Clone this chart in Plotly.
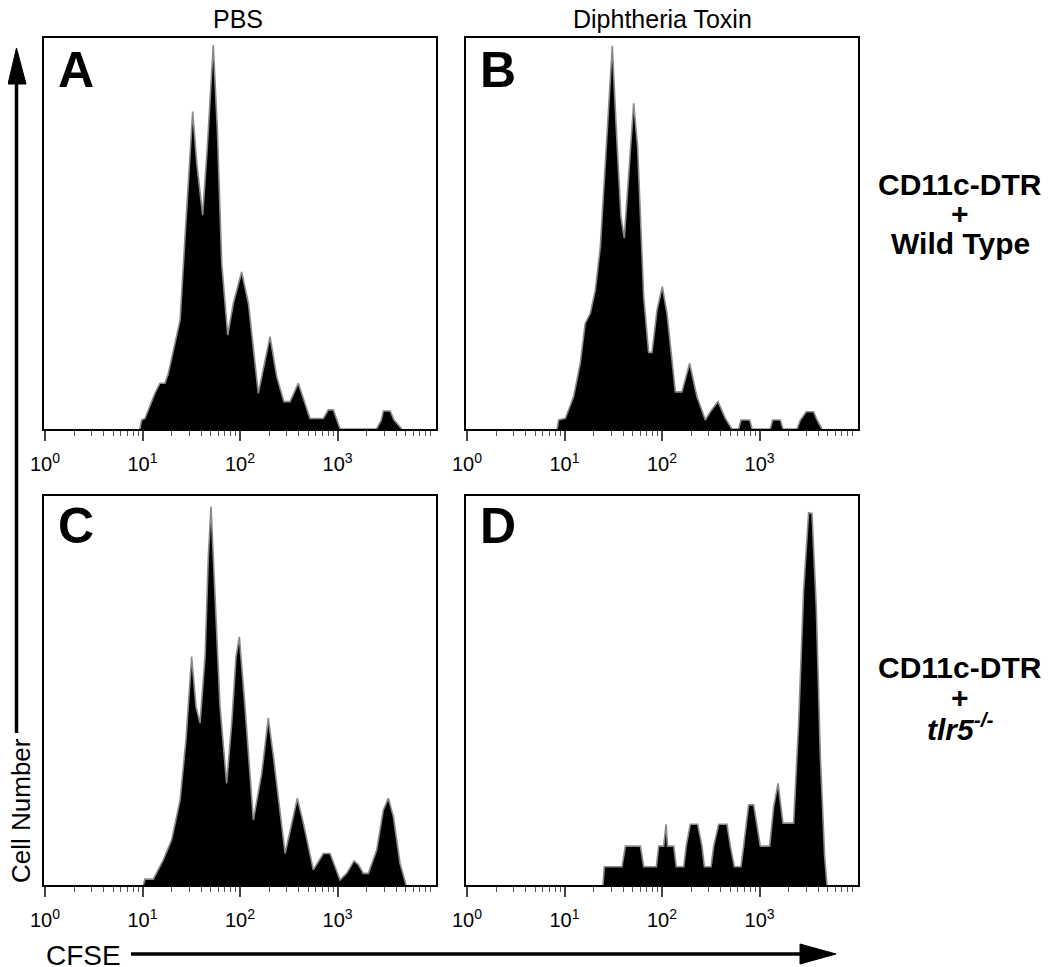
import plotly.graph_objects as go

W, H = 1050, 967
OFF = 8  # page body margin offset in pixels

# ---------------- data (CFSE intensity, cell count as % of panel height) ----------------
a_cfse = [9.4, 9.8, 10.6, 13.4, 15.1, 17.0, 18.4, 24.3, 27.3, 30.7, 32.7, 36.0, 41.4, 46.2,
          53.2, 58.6, 64.9, 74.8, 85.3, 104, 122, 154, 203, 238, 282, 326, 396, 522, 716,
          805, 906, 1062, 2512, 2818, 2951, 3467, 3800, 4571]
a_count = [0, 2.3, 2.7, 9.1, 11.7, 11.7, 14.2, 27.9, 49.2, 69.6, 81.2, 68.0, 54.7, 72.2,
           98.2, 76.5, 42.4, 24.0, 32.1, 40.2, 32.1, 9.1, 23.6, 13.4, 7.0, 7.0, 11.7, 2.7, 2.7,
           4.9, 4.9, 0, 0, 2.3, 4.6, 4.6, 2.3, 0]

b_cfse = [8.4, 8.7, 10.2, 12.4, 14.5, 16.3, 18.4, 20.7, 23.3, 26.2, 29.0, 30.9, 34.0, 37.9,
          41.0, 45.5, 51.2, 56.2, 64.9, 72.9, 78.9, 88.9, 100.7, 112.5, 137, 160, 192, 228,
          278, 313, 375, 446, 522, 611, 645, 794, 838, 1291, 1363, 1634, 1741, 2425, 2624,
          3020, 3589, 3890, 4375]
b_count = [0, 2.3, 2.7, 8.3, 16.8, 27.0, 29.6, 35.5, 46.6, 68.0, 89.3, 98.0, 76.5, 54.3,
           48.8, 66.2, 83.3, 72.2, 33.8, 19.6, 19.6, 30.4, 36.4, 29.6, 9.5, 9.5, 16.8, 8.3,
           2.3, 4.4, 7.0, 2.7, 0, 0, 2.3, 2.3, 0, 0, 2.3, 2.3, 0, 0, 2.3,
           4.4, 4.4, 2.3, 0]

c_cfse = [10.2, 10.6, 12.9, 16.3, 19.9, 24.3, 27.9, 31.9, 35.4, 38.9, 43.8, 47.3, 50.4, 55.5,
          62.4, 72.9, 82.2, 91.0, 98.4, 112.5, 137, 167, 195, 220, 290, 387, 446, 565, 716,
          838, 1062, 1242, 1476, 1637, 1841, 2070, 2523, 2951, 3321, 3741, 4375, 5047]
c_count = [0, 1.5, 1.5, 6.4, 11.6, 21.9, 37.3, 58.7, 45.8, 41.6, 58.7, 84.4, 97.3, 75.8,
           45.8, 26.1, 41.6, 58.7, 63.8, 45.8, 16.7, 28.7, 42.9, 33.0, 8.1, 22.3, 15.9, 3.9, 8.1,
           8.1, 1.3, 3.0, 6.2, 5.2, 3.0, 3.0, 9.0, 19.3, 22.3, 17.6, 5.6, 0]

d_cfse = [24.8, 25.6, 38.9, 42.1, 60, 64.9, 87.5, 92.5, 104, 110, 114, 132, 140, 167, 177,
          195, 232, 257, 272, 318, 339, 381, 464, 502, 552, 645, 687, 773, 871, 1019, 1270,
          1396, 1549, 1741, 2239, 2518, 2833, 3189, 3452, 3820, 4207, 4656, 4920]
d_count = [0, 4.7, 4.7, 10.0, 10.0, 4.7, 4.7, 10.0, 10.0, 15.6, 10.0, 10.0, 4.7, 4.7, 10.0,
           15.6, 15.6, 10.0, 4.7, 4.7, 10.0, 15.6, 15.6, 10.0, 4.7, 4.7, 10.0, 20.6, 20.6, 10.0,
           10.0, 20.1, 26.1, 15.9, 15.9, 41.6, 75.8, 95.7, 95.5, 71.5, 33.0, 7.3, 0]

panel_letters = ["A", "B", "C", "D"]
column_titles = ["PBS", "Diphtheria Toxin"]
tick_values = [1, 10, 100, 1000]
tick_labels = ["10<sup>0</sup>", "10<sup>1</sup>", "10<sup>2</sup>", "10<sup>3</sup>"]
minor_values = [k * 10 ** d for d in range(4) for k in range(2, 10)]

FONT = "Liberation Sans, Arial, sans-serif"


def px_x(p):
    return (p - OFF) / W


def px_y(p):
    return 1 - (p - OFF) / H


# panel boxes in pixels: (left, top, right, bottom)
boxes = [(44, 38, 436, 429), (466, 38, 858, 429), (44, 496, 436, 885), (466, 496, 858, 885)]
series = [(a_cfse, a_count), (b_cfse, b_count), (c_cfse, c_count), (d_cfse, d_count)]

fig = go.Figure()
layout = dict(width=W, height=H, margin=dict(l=0, r=0, t=0, b=0, autoexpand=False),
              paper_bgcolor="white", plot_bgcolor="white", showlegend=False,
              font=dict(family=FONT, color="black"))

for i, ((l, t, r, b), (xs, ys)) in enumerate(zip(boxes, series)):
    n = i + 1
    xa = "x" if n == 1 else f"x{n}"
    ya = "y" if n == 1 else f"y{n}"
    fig.add_trace(go.Scatter(x=xs, y=ys, xaxis=xa, yaxis=ya, mode="lines",
                             fill="tozeroy", fillcolor="black",
                             line=dict(color="#8a8a8a", width=1.6, shape="linear"),
                             hoverinfo="skip"))
    layout[f"xaxis{'' if n == 1 else n}"] = dict(
        type="log", range=[-0.0103, 4.01], domain=[px_x(l), px_x(r)], anchor=ya,
        automargin=False,
        showgrid=False, zeroline=False, showline=True, mirror=True,
        linecolor="black", linewidth=2,
        tickmode="array", tickvals=tick_values, ticktext=tick_labels,
        ticks="outside", ticklen=10, tickwidth=1.5, tickcolor="#444",
        ticklabelstandoff=6,
        tickfont=dict(size=20, family=FONT, color="black"),
        minor=dict(tickmode="array", tickvals=minor_values, ticks="outside",
                   ticklen=5, tickwidth=1.2, tickcolor="#555"),
    )
    layout[f"yaxis{'' if n == 1 else n}"] = dict(
        range=[0, 100], domain=[px_y(b), px_y(t)], anchor=xa, automargin=False,
        showgrid=False, zeroline=False, showline=True, mirror=True,
        linecolor="black", linewidth=2, showticklabels=False, ticks="",
    )

fig.update_layout(**layout)

ann = []
# panel letters
letter_pos = [(56, 40), (478, 40), (56, 496), (478, 496)]
for letter, (lx, ly) in zip(panel_letters, letter_pos):
    ann.append(dict(text=f"<b>{letter}</b>", x=px_x(lx), y=px_y(ly), xref="paper", yref="paper",
                    xanchor="left", yanchor="top", showarrow=False,
                    font=dict(size=50, family=FONT, color="black")))
# column titles
for title, cx in zip(column_titles, [238, 662]):
    ann.append(dict(text=title, x=px_x(cx), y=px_y(19), xref="paper", yref="paper",
                    xanchor="center", yanchor="middle", showarrow=False,
                    font=dict(size=25, family=FONT, color="black")))
# row labels
row1 = ["<b>CD11c-DTR</b>", "<b>+</b>", "<b>Wild Type</b>"]
row2 = ["<b>CD11c-DTR</b>", "<b>+</b>", "<b><i>tlr5</i></b><sup><b><i>-/-</i></b></sup>"]
for lines, ys in [(row1, [184, 213, 243]), (row2, [667, 697, 727])]:
    for txt, yy in zip(lines, ys):
        ann.append(dict(text=txt, x=px_x(960), y=px_y(yy), xref="paper", yref="paper",
                        xanchor="center", yanchor="middle", showarrow=False,
                        font=dict(size=30, family=FONT, color="black")))
# axis titles
ann.append(dict(text="Cell Number", x=px_x(21), y=px_y(811), xref="paper", yref="paper",
                xanchor="center", yanchor="middle", textangle=-90, showarrow=False,
                font=dict(size=26, family=FONT, color="black")))
ann.append(dict(text="CFSE", x=px_x(44), y=px_y(955), xref="paper", yref="paper",
                xanchor="left", yanchor="middle", showarrow=False,
                font=dict(size=28, family=FONT, color="black")))
fig.update_layout(annotations=ann)

# arrows (paper-coordinate shapes)
shapes = [
    dict(type="line", xref="paper", yref="paper", x0=px_x(16.5), x1=px_x(16.5),
         y0=px_y(733), y1=px_y(78), line=dict(color="black", width=3.5)),
    dict(type="path", xref="paper", yref="paper",
         path=f"M {px_x(16.5)},{px_y(48)} L {px_x(8)},{px_y(84)} L {px_x(26)},{px_y(84)} Z",
         fillcolor="black", line=dict(color="black", width=1)),
    dict(type="line", xref="paper", yref="paper", x0=px_x(131), x1=px_x(808),
         y0=px_y(954), y1=px_y(954), line=dict(color="black", width=3.5)),
    dict(type="path", xref="paper", yref="paper",
         path=f"M {px_x(836)},{px_y(954)} L {px_x(800)},{px_y(944)} L {px_x(800)},{px_y(964)} Z",
         fillcolor="black", line=dict(color="black", width=1)),
]
fig.update_layout(shapes=shapes)

fig.write_html("out.html")
